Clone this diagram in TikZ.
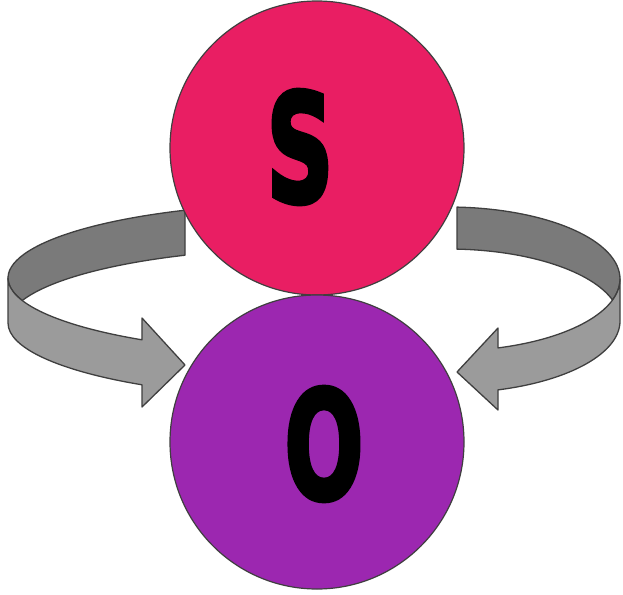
\documentclass[tikz,border=0pt]{standalone}
\usepackage{fontspec}
\setmainfont{DejaVu Sans}
\newfontfamily\heavyfont[FakeBold=3.5]{DejaVu Sans Bold}
\usepackage{graphicx}
\definecolor{pinkS}{HTML}{E91E63}
\definecolor{purpleO}{HTML}{9C27B0}
\definecolor{ribdark}{HTML}{7A7A7A}
\definecolor{riblight}{HTML}{9B9B9B}
\definecolor{edge}{HTML}{3F3F3F}
\newcommand{\heavyletter}[1]{\scalebox{0.62}[1]{#1}}
\begin{document}
\begin{tikzpicture}[x=1pt,y=1pt,
  ribback/.style={fill=ribdark,draw=edge,line width=1.3pt,line join=round},
  ribfront/.style={fill=riblight,draw=edge,line width=1.3pt,line join=round},
  ball/.style={circle,minimum size=294pt,inner sep=0pt,draw=edge,line width=1.2pt},
  letter/.style={font=\fontsize{150}{150}\selectfont\heavyfont,inner sep=0pt}]
\useasboundingbox (0,0) rectangle (623,-594);
% left ribbon
\draw[ribback] (185,-210.2)
  arc[start angle=115.3,end angle=197.46,x radius=309pt,y radius=75pt]
  arc[start angle=162.54,end angle=115.3,x radius=309pt,y radius=75pt] -- cycle;
\draw[ribfront] (8,-278)
  arc[start angle=180,end angle=235.5,x radius=309pt,y radius=75pt]
  -- (142,-318) -- (185,-365) -- (142,-407) -- (142,-384.8)
  arc[start angle=235.5,end angle=180,x radius=309pt,y radius=75pt] -- cycle;
% right ribbon
\draw[ribback] (457,-207.1)
  arc[start angle=87,end angle=-16.96,x radius=172pt,y radius=72pt]
  arc[start angle=16.96,end angle=87,x radius=172pt,y radius=72pt] -- cycle;
\draw[ribfront] (620,-279) -- (620,-321)
  arc[start angle=0,end angle=-73.1,x radius=172pt,y radius=72pt]
  -- (498,-410) -- (457,-372) -- (498,-328) -- (498,-347.9)
  arc[start angle=-73.1,end angle=0,x radius=172pt,y radius=72pt] -- cycle;
% circles
\node[ball,fill=pinkS] (s) at (317,-148) {};
\node[ball,fill=purpleO] (o) at (317,-442) {};
\node[letter] (sl) at (300,-147) {\heavyletter{S}};
\node[letter] (ol) at (324,-444) {\heavyletter{O}};
\end{tikzpicture}
\end{document}
